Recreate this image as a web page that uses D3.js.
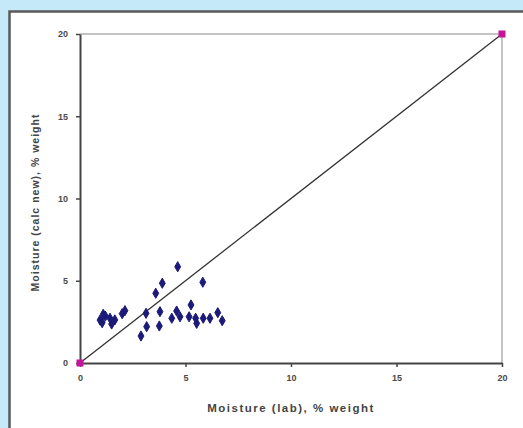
<!DOCTYPE html>
<html>
<head>
<meta charset="utf-8">
<script src="https://cdn.jsdelivr.net/npm/d3@7/dist/d3.min.js"></script>
<style>
  html, body { margin: 0; padding: 0; background: #c6e9f9; overflow: hidden; }
  svg { display: block; }
  text { font-family: "Liberation Sans", Arial, sans-serif; }
</style>
</head>
<body>
<svg id="chart" width="523" height="428"></svg>
<script>
// Moisture: laboratory value vs. calculated value (% weight)
const labMoisture  = [0.95, 1.10, 1.42, 1.50, 1.20, 1.65, 1.05, 2.00, 2.13, 2.89, 3.13, 3.16, 3.59, 3.76, 3.79, 3.90, 4.35, 4.58, 4.63, 4.74, 5.17, 5.26, 5.48, 5.53, 5.82, 5.84, 6.16, 6.53, 6.74];
const calcMoisture = [2.61, 2.96, 2.72, 2.37, 2.85, 2.62, 2.45, 3.00, 3.18, 1.64, 3.02, 2.21, 4.24, 2.25, 3.12, 4.85, 2.72, 3.16, 5.85, 2.81, 2.81, 3.53, 2.72, 2.41, 4.91, 2.72, 2.72, 3.06, 2.57];
// Reference 1:1 line end points
const parityX = [0, 20];
const parityY = [0, 20];
const tickValues = [0, 5, 10, 15, 20];
const xTitle = "Moisture (lab), % weight";
const yTitle = "Moisture (calc new), % weight";

const svg = d3.select("#chart");

// white chart panel, dark edge on left and top
svg.append("rect").attr("x", 9).attr("y", 11).attr("width", 514).attr("height", 417)
  .attr("fill", "#ffffff");
svg.append("path").attr("d", "M9.5,428V11.5H523")
  .attr("fill", "none").attr("stroke", "#5a5a5a").attr("stroke-width", 2.5);

const x = d3.scaleLinear().domain([0, 20]).range([80, 502]);
const y = d3.scaleLinear().domain([0, 20]).range([363, 34]);

// plot area frame (top and right)
svg.append("path")
  .attr("d", `M${x(0)},${y(20)}H${x(20)}V${y(0)}`)
  .attr("fill", "none").attr("stroke", "#c4c4c4").attr("stroke-width", 2);

// axes
const xAxis = svg.append("g").attr("transform", `translate(0,${y(0)})`)
  .call(d3.axisBottom(x).tickValues(tickValues).tickSize(4).tickPadding(8).tickSizeOuter(0));
const yAxis = svg.append("g").attr("transform", `translate(${x(0)},0)`)
  .call(d3.axisLeft(y).tickValues(tickValues).tickSize(4).tickPadding(8).tickSizeOuter(0));
[xAxis, yAxis].forEach(g => {
  g.select(".domain").attr("stroke", "#444").attr("stroke-width", 2);
  g.selectAll(".tick line").attr("stroke", "#444").attr("stroke-width", 1.5);
  g.selectAll(".tick text").attr("fill", "#4a4a4a").attr("font-size", 9).attr("font-weight", "bold");
});

// 1:1 line
svg.append("line")
  .attr("x1", x(parityX[0])).attr("y1", y(parityY[0]))
  .attr("x2", x(parityX[1])).attr("y2", y(parityY[1]))
  .attr("stroke", "#333").attr("stroke-width", 1.3);

// data points (diamonds)
const diamond = d3.symbol().type(d3.symbolDiamond).size(30);
svg.append("g").selectAll("path")
  .data(labMoisture.map((v, i) => [v, calcMoisture[i]]))
  .join("path")
  .attr("d", diamond)
  .attr("transform", d => `translate(${x(d[0])},${y(d[1])})`)
  .attr("fill", "#1c1a78").attr("stroke", "#1c1a78").attr("stroke-width", 1).attr("stroke-linejoin", "round");

// end markers of the 1:1 line
svg.append("g").selectAll("rect")
  .data(parityX.map((v, i) => [v, parityY[i]]))
  .join("rect")
  .attr("x", d => x(d[0]) - 3.5).attr("y", d => y(d[1]) - 3.5)
  .attr("width", 7).attr("height", 7)
  .attr("fill", "#c4149c");

// axis titles
svg.append("text")
  .attr("x", (x(0) + x(20)) / 2).attr("y", 412)
  .attr("text-anchor", "middle").attr("font-size", 11.5).attr("font-weight", "bold")
  .attr("letter-spacing", 1.5).attr("fill", "#444")
  .text(xTitle);
svg.append("text")
  .attr("transform", `translate(39,${(y(0) + y(20)) / 2 + 4}) rotate(-90)`)
  .attr("text-anchor", "middle").attr("font-size", 10.5).attr("font-weight", "bold")
  .attr("letter-spacing", 1).attr("fill", "#444")
  .text(yTitle);
</script>
</body>
</html>
